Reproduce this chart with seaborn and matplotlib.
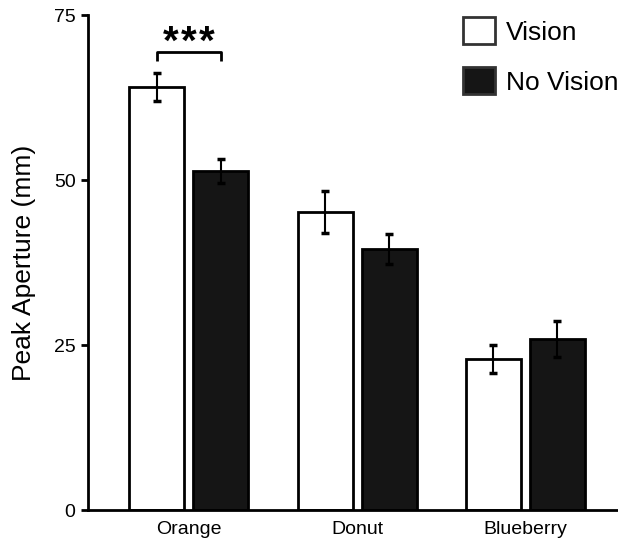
import matplotlib
matplotlib.use("Agg")
import matplotlib.pyplot as plt
from matplotlib.patches import Patch
import pandas as pd
import seaborn as sns

# Peak aperture means and error (mm) per food item and condition
foods = ["Orange", "Donut", "Blueberry"]
conditions = ["Vision", "No Vision"]
vision_mean = [64.1, 45.2, 22.9]
novision_mean = [51.4, 39.5, 25.9]
vision_err = [2.1, 3.2, 2.1]
novision_err = [1.8, 2.3, 2.7]
y_ticks = [0, 25, 50, 75]

df = pd.DataFrame({
    "food": foods * 2,
    "condition": [conditions[0]] * 3 + [conditions[1]] * 3,
    "aperture": vision_mean + novision_mean,
    "err": vision_err + novision_err,
})

sns.set_theme(style="white")
plt.rcParams["font.family"] = ["Liberation Sans", "DejaVu Sans"]
plt.rcParams.update({"text.color": "black", "axes.labelcolor": "black",
                     "xtick.color": "black", "ytick.color": "black"})

fig = plt.figure(figsize=(6.18, 5.42), dpi=100)
ax = fig.add_axes([0.1424, 0.059, 0.8576, 0.9133])

palette = {"Vision": "white", "No Vision": "#151515"}
sns.barplot(data=df, x="food", y="aperture", hue="condition", order=foods,
            hue_order=conditions, palette=palette, errorbar=None,
            width=0.76, gap=0.14, edgecolor="black", linewidth=2,
            legend=False, ax=ax)

# error bars at the centre of each bar
for cond_i, cond in enumerate(conditions):
    sub = df[df["condition"] == cond].set_index("food").loc[foods]
    bars = ax.containers[cond_i]
    xs = [b.get_x() + b.get_width() / 2 for b in bars]
    ax.errorbar(xs, sub["aperture"], yerr=sub["err"], fmt="none",
                ecolor="black", elinewidth=1.5, capsize=3, capthick=2.5,
                zorder=5)

# significance bracket over the Orange pair
b0 = ax.containers[0][0]
b1 = ax.containers[1][0]
x0 = b0.get_x() + b0.get_width() / 2
x1 = b1.get_x() + b1.get_width() / 2
ax.plot([x0, x0, x1, x1], [68.1, 69.4, 69.4, 68.1], color="black",
        lw=2, solid_capstyle="butt", clip_on=False)
xm = (x0 + x1) / 2
for dx in (-0.107, 0.0, 0.107):
    ax.text(xm + dx, 69.1, "*", ha="center", va="baseline",
            fontsize=29, fontweight="bold", color="black")

ax.set_xlim(-0.6, 2.55)
ax.set_ylim(0, 75)
ax.set_yticks(y_ticks)
ax.set_yticklabels([str(t) for t in y_ticks], fontsize=14)
ax.tick_params(axis="y", direction="out", length=5, width=2, color="black",
               pad=4, left=True)
ax.tick_params(axis="x", length=0, pad=8, labelsize=14)
ax.set_xlabel("")
ax.set_ylabel("Peak Aperture (mm)", fontsize=19)
ax.yaxis.set_label_coords(-0.098, 0.5)

sns.despine(ax=ax, top=True, right=True)
for side in ("left", "bottom"):
    ax.spines[side].set_linewidth(2)
    ax.spines[side].set_color("black")

handles = [Patch(facecolor="white", edgecolor="#333333", linewidth=2),
           Patch(facecolor="#151515", edgecolor="#333333", linewidth=2)]
fig.legend(handles, conditions, loc="upper left",
           bbox_to_anchor=(0.749, 0.968), frameon=False, fontsize=19,
           handlelength=1.2, handleheight=1.2, handletextpad=0.42,
           labelspacing=0.85, borderpad=0, borderaxespad=0)

fig.savefig("out.png", dpi=100)
